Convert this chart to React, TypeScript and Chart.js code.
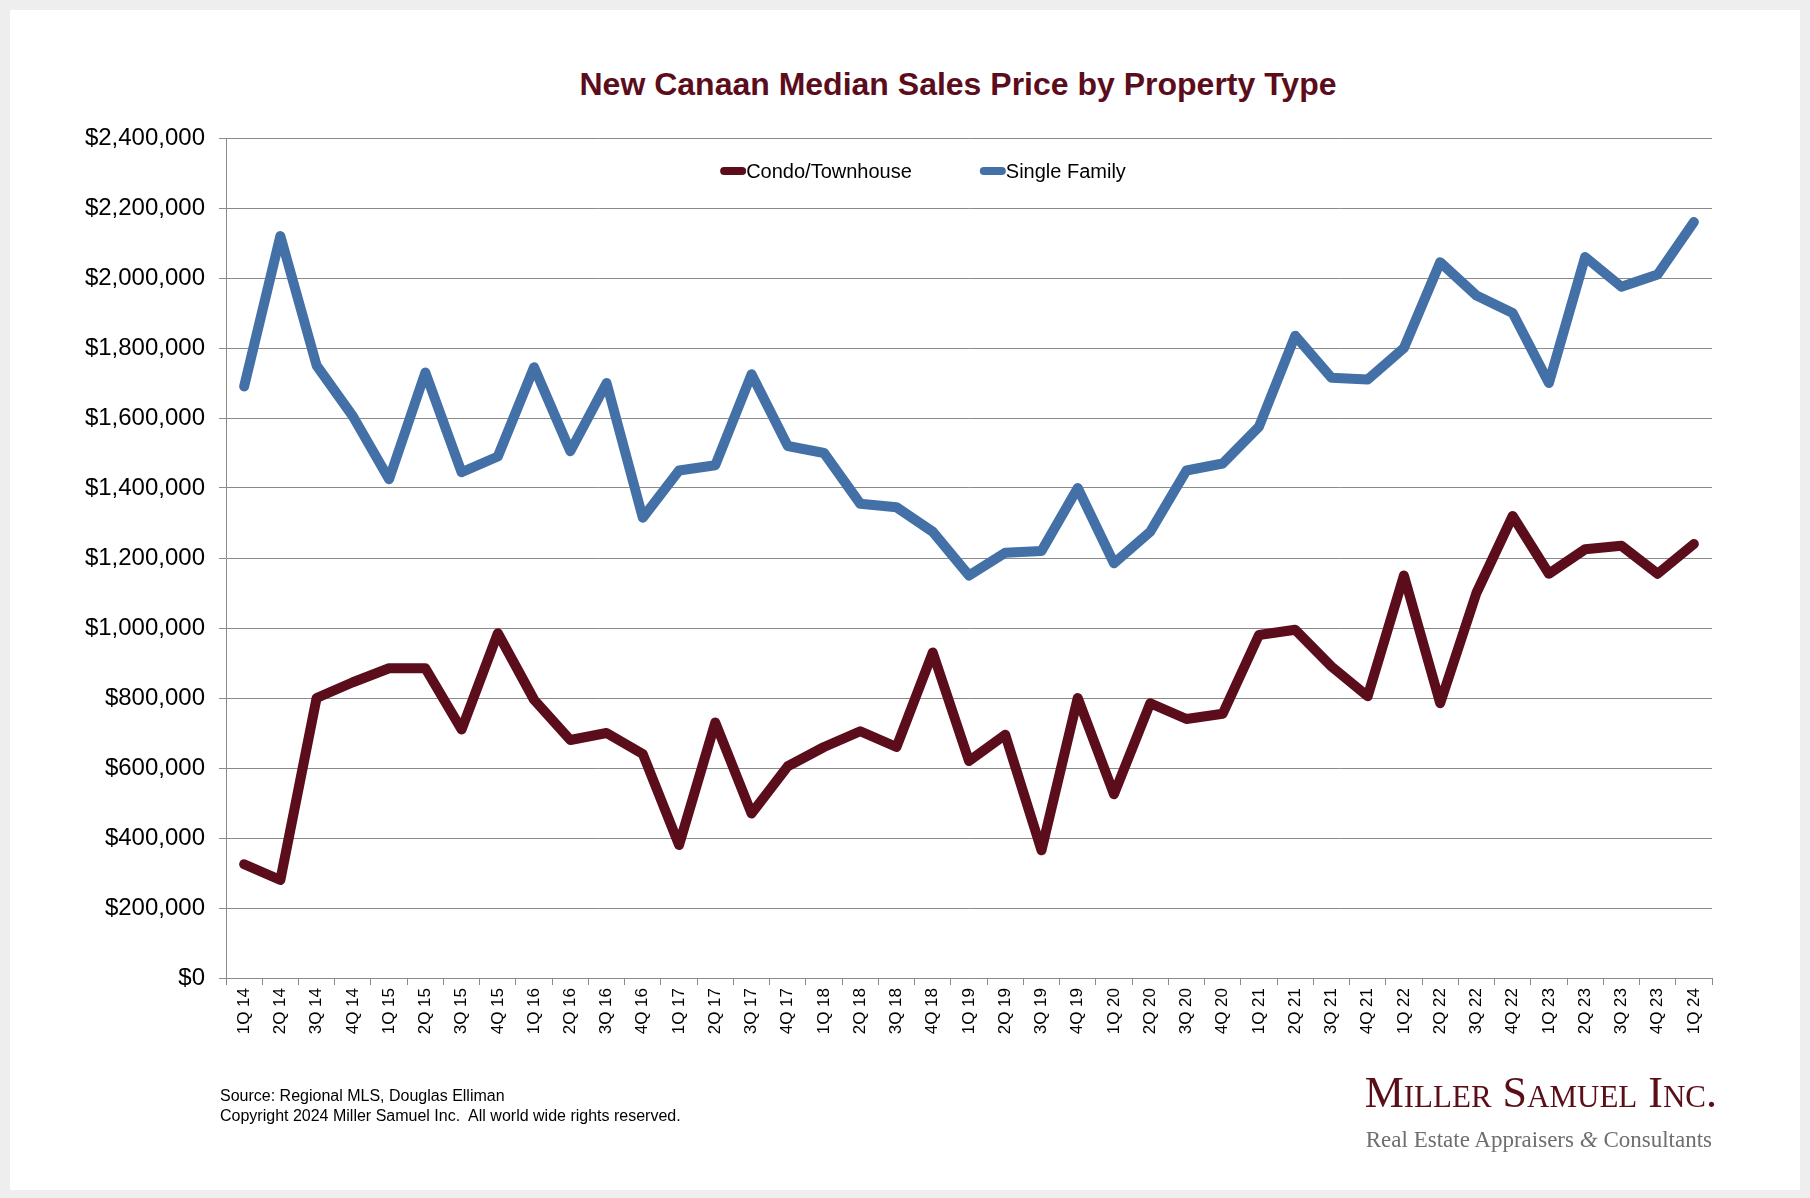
import React, { useEffect, useRef } from 'react';
import { Chart, registerables } from 'chart.js';

Chart.register(...registerables);

const quarters = [
  '1Q 14', '2Q 14', '3Q 14', '4Q 14',
  '1Q 15', '2Q 15', '3Q 15', '4Q 15',
  '1Q 16', '2Q 16', '3Q 16', '4Q 16',
  '1Q 17', '2Q 17', '3Q 17', '4Q 17',
  '1Q 18', '2Q 18', '3Q 18', '4Q 18',
  '1Q 19', '2Q 19', '3Q 19', '4Q 19',
  '1Q 20', '2Q 20', '3Q 20', '4Q 20',
  '1Q 21', '2Q 21', '3Q 21', '4Q 21',
  '1Q 22', '2Q 22', '3Q 22', '4Q 22',
  '1Q 23', '2Q 23', '3Q 23', '4Q 23',
  '1Q 24',
];

const condoTownhouse = [
  325000, 280000, 800000, 845000,
  885000, 885000, 710000, 985000,
  795000, 680000, 700000, 640000,
  380000, 730000, 470000, 605000,
  660000, 705000, 660000, 930000,
  620000, 695000, 365000, 800000,
  525000, 785000, 740000, 755000,
  980000, 995000, 890000, 805000,
  1150000, 785000, 1100000, 1320000,
  1155000, 1225000, 1235000, 1155000,
  1240000,
];

const singleFamily = [
  1690000, 2120000, 1750000, 1605000,
  1425000, 1730000, 1445000, 1490000,
  1745000, 1505000, 1700000, 1315000,
  1450000, 1465000, 1725000, 1520000,
  1500000, 1355000, 1345000, 1275000,
  1150000, 1215000, 1220000, 1400000,
  1185000, 1275000, 1450000, 1470000,
  1575000, 1835000, 1715000, 1710000,
  1800000, 2045000, 1950000, 1900000,
  1700000, 2060000, 1975000, 2010000,
  2160000,
];

const seriesNames = ['Condo/Townhouse', 'Single Family'];

const SANS = '"Liberation Sans", Arial, Helvetica, sans-serif';
const SERIF = '"Liberation Serif", "Times New Roman", serif';
const MAROON = '#5b0d1c';
const BLUE = '#4371a7';
const GRID = '#8a8a8a';

// legend sits inside the plot, under the top gridline
const insideLegend = {
  id: 'insideLegend',
  afterDraw(chart: any) {
    const { ctx } = chart;
    const swatch = 26;
    const gap = 68;
    ctx.save();
    ctx.font = `20px ${SANS}`;
    const items = chart.data.datasets.map((ds: any) => ({
      text: ds.label,
      color: ds.borderColor,
      w: swatch + ctx.measureText(ds.label).width,
    }));
    const total = items.reduce((s: number, it: any) => s + it.w, 0) + gap * (items.length - 1);
    let x = 923 - total / 2;
    const y = 171;
    items.forEach((it: any) => {
      ctx.strokeStyle = it.color;
      ctx.lineWidth = 8;
      ctx.lineCap = 'round';
      ctx.beginPath();
      ctx.moveTo(x + 4, y);
      ctx.lineTo(x + swatch - 4, y);
      ctx.stroke();
      ctx.fillStyle = '#000';
      ctx.textAlign = 'left';
      ctx.textBaseline = 'alphabetic';
      ctx.fillText(it.text, x + swatch, y + 7.3);
      x += it.w + gap;
    });
    ctx.restore();
  },
};

function PriceChart() {
  const canvasRef = useRef<HTMLCanvasElement>(null);

  useEffect(() => {
    if (!canvasRef.current) return;
    const chart = new Chart(canvasRef.current, {
      type: 'line',
      data: {
        labels: quarters,
        datasets: [
          {
            label: seriesNames[0],
            data: condoTownhouse,
            borderColor: MAROON,
            backgroundColor: MAROON,
            borderWidth: 10,
            borderJoinStyle: 'round',
            borderCapStyle: 'round',
            pointRadius: 0,
            tension: 0,
          },
          {
            label: seriesNames[1],
            data: singleFamily,
            borderColor: BLUE,
            backgroundColor: BLUE,
            borderWidth: 10,
            borderJoinStyle: 'round',
            borderCapStyle: 'round',
            pointRadius: 0,
            tension: 0,
          },
        ],
      },
      options: {
        animation: false,
        responsive: false,
        maintainAspectRatio: false,
        layout: { padding: { left: 26, right: 98, top: 138, bottom: 140 } },
        plugins: {
          legend: { display: false },
          tooltip: { enabled: false },
        },
        scales: {
          x: {
            type: 'category',
            offset: true,
            grid: {
              display: true,
              drawOnChartArea: false,
              drawTicks: true,
              tickLength: 7,
              color: GRID,
              offset: true,
            },
            border: { display: true, color: GRID },
            ticks: {
              autoSkip: false,
              minRotation: 90,
              maxRotation: 90,
              padding: 3,
              color: '#000',
              font: { family: SANS, size: 17 },
            },
            afterFit: (s: any) => {
              s.height = 80;
            },
          },
          y: {
            min: 0,
            max: 2400000,
            grid: { color: GRID, tickLength: 7, drawTicks: true },
            border: { display: true, color: GRID },
            ticks: {
              stepSize: 200000,
              padding: 14,
              color: '#000',
              font: { family: SANS, size: 24 },
              callback: (v: any) => '$' + Number(v).toLocaleString('en-US'),
            },
            afterFit: (s: any) => {
              s.width = 200;
            },
          },
        },
      } as any,
      plugins: [insideLegend],
    });
    return () => chart.destroy();
  }, []);

  return (
    <canvas
      ref={canvasRef}
      width={1810}
      height={1198}
      style={{ position: 'absolute', left: 0, top: 0, width: 1810, height: 1198 }}
    />
  );
}

export default function App() {
  return (
    <div
      style={{
        position: 'absolute',
        left: 0,
        top: 0,
        width: 1810,
        height: 1198,
        background: '#eeeeee',
        overflow: 'hidden',
      }}
    >
      <div
        style={{
          position: 'absolute',
          left: 10,
          top: 10,
          width: 1790,
          height: 1180,
          background: '#ffffff',
        }}
      />
      <div
        style={{
          position: 'absolute',
          left: 958 - 500,
          top: 68,
          width: 1000,
          textAlign: 'center',
          fontFamily: SANS,
          fontWeight: 'bold',
          fontSize: 32,
          lineHeight: '32px',
          color: MAROON,
          whiteSpace: 'nowrap',
        }}
      >
        New Canaan Median Sales Price by Property Type
      </div>
      <PriceChart />
      <div
        style={{
          position: 'absolute',
          left: 220,
          top: 1085.5,
          fontFamily: SANS,
          fontSize: 16,
          lineHeight: '20.5px',
          color: '#000',
          whiteSpace: 'pre',
        }}
      >
        {'Source: Regional MLS, Douglas Elliman\nCopyright 2024 Miller Samuel Inc.  All world wide rights reserved.'}
      </div>
      <div
        style={{
          position: 'absolute',
          right: 1810 - 1717,
          top: 1071,
          fontFamily: SERIF,
          fontVariant: 'small-caps',
          fontSize: 44,
          lineHeight: '44px',
          color: '#5a0e18',
          whiteSpace: 'nowrap',
          textAlign: 'right',
        }}
      >
        Miller Samuel Inc.
      </div>
      <div
        style={{
          position: 'absolute',
          right: 1810 - 1712,
          top: 1127.5,
          fontFamily: SERIF,
          fontSize: 23,
          lineHeight: '23px',
          color: '#6e6e6e',
          whiteSpace: 'nowrap',
          textAlign: 'right',
        }}
      >
        Real Estate Appraisers <span style={{ fontStyle: 'italic' }}>&amp;</span> Consultants
      </div>
    </div>
  );
}
